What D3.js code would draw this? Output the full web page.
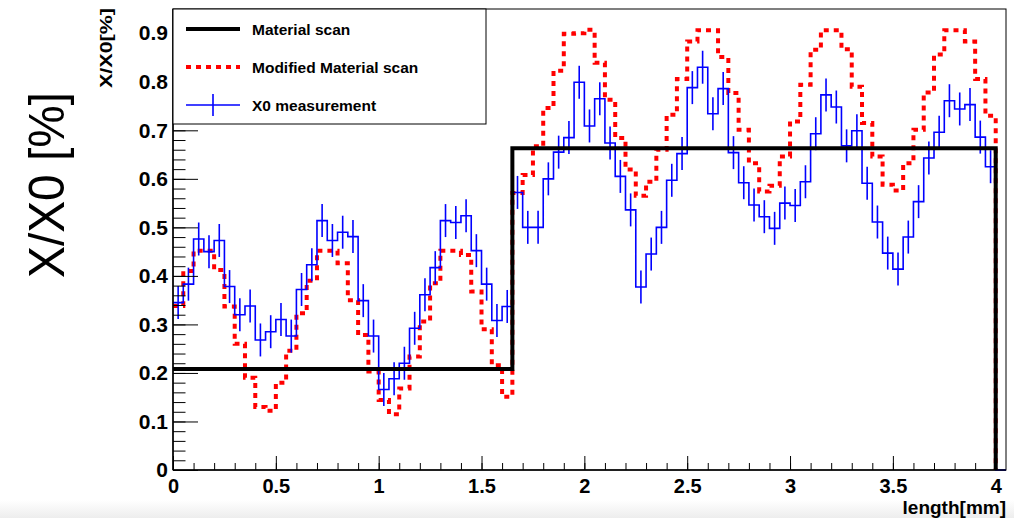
<!DOCTYPE html>
<html>
<head>
<meta charset="utf-8">
<script src="https://cdn.jsdelivr.net/npm/d3@7"></script>
<style>
    html, body { margin: 0; padding: 0; background: #ffffff; }
    svg { display: block; font-family: 'Liberation Sans', Arial, Helvetica, sans-serif; }
</style>
</head>
<body>
<svg id="chart" width="1014" height="518"></svg>
<script>
/**
 * Histogram binning of the scan (mm)
 */
const binWidth = 0.05;
const xMax = 4.05;
const yMax = 0.95;

/**
 * Material scan: a two level step, edges in mm
 */
const materialEdges = [0, 1.65, 4.0];
const materialValues = [0.208, 0.663];

/**
 * Modified material scan, one value per 0.05 mm bin (0 .. 4 mm)
 */
const modifiedValues = [
    0.338, 0.41, 0.452, 0.452, 0.412, 0.337, 0.26, 0.19, 0.13, 0.122,
    0.18, 0.246, 0.323, 0.39, 0.452, 0.452, 0.426, 0.35, 0.278, 0.203,
    0.144, 0.115, 0.168, 0.234, 0.306, 0.385, 0.452, 0.452, 0.443, 0.368,
    0.29, 0.216, 0.151, 0.571, 0.608, 0.667, 0.746, 0.823, 0.899, 0.9,
    0.907, 0.839, 0.763, 0.684, 0.619, 0.565, 0.594, 0.66, 0.732, 0.806,
    0.883, 0.906, 0.906, 0.851, 0.777, 0.701, 0.632, 0.574, 0.586, 0.646,
    0.718, 0.794, 0.866, 0.906, 0.906, 0.867, 0.79, 0.715, 0.646, 0.588,
    0.576, 0.632, 0.701, 0.778, 0.856, 0.906, 0.906, 0.883, 0.806, 0.73
];

/**
 * X0 measurement, one value per 0.05 mm bin, with its error
 */
const measuredValues = [
    0.345, 0.383, 0.476, 0.45, 0.473, 0.378, 0.32, 0.338, 0.268, 0.285,
    0.31, 0.276, 0.372, 0.423, 0.514, 0.473, 0.49, 0.481, 0.349, 0.276,
    0.166, 0.188, 0.22, 0.292, 0.361, 0.417, 0.514, 0.51, 0.524, 0.452,
    0.383, 0.308, 0.337, 0.572, 0.5, 0.5, 0.6, 0.655, 0.685, 0.799,
    0.709, 0.765, 0.674, 0.605, 0.536, 0.377, 0.445, 0.5, 0.597, 0.652,
    0.788, 0.83, 0.734, 0.786, 0.654, 0.592, 0.546, 0.522, 0.498, 0.55,
    0.545, 0.594, 0.693, 0.773, 0.748, 0.668, 0.699, 0.591, 0.511, 0.447,
    0.414, 0.48, 0.553, 0.643, 0.696, 0.761, 0.744, 0.753, 0.686, 0.625
];
const measuredError = 0.034;

/**
 * Tick values of both axes
 */
const xMajorTicks = [0, 0.5, 1, 1.5, 2, 2.5, 3, 3.5, 4];
const xTickLabels = ['0', '0.5', '1', '1.5', '2', '2.5', '3', '3.5', '4'];
const yMajorTicks = [0, 0.1, 0.2, 0.3, 0.4, 0.5, 0.6, 0.7, 0.8, 0.9];
const yTickLabels = ['0', '0.1', '0.2', '0.3', '0.4', '0.5', '0.6', '0.7', '0.8', '0.9'];

const legendEntries = ['Material scan', 'Modified Material scan', 'X0 measurement'];

// frame of the pad, in pixels
const frame = { left: 173, right: 1006, top: 9, bottom: 470 };

function histPoints(values) {
    // step points: one per bin plus the drop to zero at the last edge
    const pts = values.map((v, i) => [i * binWidth, v]);
    pts.push([values.length * binWidth, 0]);
    return pts;
}

function drawChart(svg) {
    svg.selectAll('*').remove();

    const xScale = d3.scaleLinear().domain([0, xMax]).range([frame.left, frame.right]);
    const yScale = d3.scaleLinear().domain([0, yMax]).range([frame.bottom, frame.top]);

    // faint shadow at the foot of the picture
    const grad = svg.append('defs').append('linearGradient')
        .attr('id', 'foot').attr('x1', 0).attr('y1', 0).attr('x2', 0).attr('y2', 1);
    grad.append('stop').attr('offset', 0).attr('stop-color', '#ffffff');
    grad.append('stop').attr('offset', 1).attr('stop-color', '#ededed');
    svg.append('rect').attr('x', 0).attr('y', 500).attr('width', 1014).attr('height', 18)
        .attr('fill', 'url(#foot)');

    // frame box
    svg.append('rect')
        .attr('x', frame.left).attr('y', frame.top)
        .attr('width', frame.right - frame.left).attr('height', frame.bottom - frame.top)
        .attr('fill', 'none').attr('stroke', '#000').attr('stroke-width', 1);

    const line = d3.line()
        .x((d) => xScale(d[0]))
        .y((d) => yScale(d[1]))
        .curve(d3.curveStepAfter);

    // Modified material scan (red dotted)
    svg.append('path')
        .attr('d', line(histPoints(modifiedValues)))
        .attr('fill', 'none')
        .attr('stroke', '#ff0000')
        .attr('stroke-width', 4)
        .attr('stroke-dasharray', '5,5');

    // X0 measurement (blue histogram with error bars)
    const bluePts = histPoints(measuredValues);
    bluePts.push([xMax, 0]);
    svg.append('path')
        .attr('d', line(bluePts))
        .attr('fill', 'none')
        .attr('stroke', '#0000ff')
        .attr('stroke-width', 1.6);
    svg.append('g')
        .selectAll('line')
        .data(measuredValues)
        .join('line')
        .attr('x1', (d, i) => xScale((i + 0.5) * binWidth))
        .attr('x2', (d, i) => xScale((i + 0.5) * binWidth))
        .attr('y1', (d) => yScale(d - measuredError))
        .attr('y2', (d) => yScale(d + measuredError))
        .attr('stroke', '#0000ff')
        .attr('stroke-width', 1.6);

    // Material scan (black)
    const blackPts = materialValues.map((v, i) => [materialEdges[i], v]);
    blackPts.push([materialEdges[materialEdges.length - 1], 0]);
    svg.append('path')
        .attr('d', line(blackPts))
        .attr('fill', 'none')
        .attr('stroke', '#000')
        .attr('stroke-width', 4);

    // X axis: minor ticks then major ticks with labels
    const xMinor = d3.range(0, 4.001, 0.1);
    svg.append('g')
        .attr('transform', `translate(0, ${frame.bottom})`)
        .call(d3.axisBottom(xScale).tickValues(xMinor).tickSize(-7).tickFormat(''))
        .call((g) => g.select('.domain').remove());
    const xAxis = svg.append('g')
        .attr('transform', `translate(0, ${frame.bottom})`)
        .call(d3.axisBottom(xScale)
            .tickValues(xMajorTicks)
            .tickSize(-14)
            .tickPadding(9)
            .tickFormat((d, i) => xTickLabels[i]));
    xAxis.select('.domain').attr('stroke-width', 1.5).attr('d', `M${frame.left},0H${frame.right}`);
    xAxis.selectAll('text')
        .attr('font-size', 20).attr('font-weight', 'bold')
        .attr('font-family', "'Liberation Sans', Arial, sans-serif").attr('fill', '#000');

    // Y axis: minor ticks then major ticks with labels
    const yMinor = d3.range(0, 0.941, 0.02);
    svg.append('g')
        .attr('transform', `translate(${frame.left}, 0)`)
        .call(d3.axisLeft(yScale).tickValues(yMinor).tickSize(-12.5).tickFormat(''))
        .call((g) => g.select('.domain').remove());
    const yAxis = svg.append('g')
        .attr('transform', `translate(${frame.left}, 0)`)
        .call(d3.axisLeft(yScale)
            .tickValues(yMajorTicks)
            .tickSize(-25)
            .tickPadding(5)
            .tickFormat((d, i) => yTickLabels[i]));
    yAxis.select('.domain').attr('stroke-width', 1.5).attr('d', `M0,${frame.top}V${frame.bottom}`);
    yAxis.selectAll('text')
        .attr('font-size', 21).attr('font-weight', 'bold')
        .attr('font-family', "'Liberation Sans', Arial, sans-serif").attr('fill', '#000');

    // Legend box, on top of the pad
    const legend = svg.append('g');
    legend.append('rect')
        .attr('x', frame.left).attr('y', frame.top)
        .attr('width', 313).attr('height', 115)
        .attr('fill', '#fff').attr('stroke', '#000').attr('stroke-width', 1);
    const rowY = [29, 67, 105];
    legend.append('line')
        .attr('x1', 186).attr('x2', 240).attr('y1', rowY[0]).attr('y2', rowY[0])
        .attr('stroke', '#000').attr('stroke-width', 4);
    legend.append('line')
        .attr('x1', 186).attr('x2', 240).attr('y1', rowY[1]).attr('y2', rowY[1])
        .attr('stroke', '#ff0000').attr('stroke-width', 4).attr('stroke-dasharray', '5,5');
    legend.append('line')
        .attr('x1', 186).attr('x2', 240).attr('y1', rowY[2]).attr('y2', rowY[2])
        .attr('stroke', '#0000ff').attr('stroke-width', 1.6);
    legend.append('line')
        .attr('x1', 213).attr('x2', 213).attr('y1', rowY[2] - 11).attr('y2', rowY[2] + 11)
        .attr('stroke', '#0000ff').attr('stroke-width', 1.6);
    legend.selectAll('text')
        .data(legendEntries)
        .join('text')
        .attr('x', 252)
        .attr('y', (d, i) => rowY[i] + 5.5)
        .attr('font-size', 15.5)
        .attr('font-weight', 'bold')
        .text((d) => d);

    // Axis titles
    svg.append('text')
        .attr('x', frame.right)
        .attr('y', 514)
        .attr('text-anchor', 'end')
        .attr('font-size', 19)
        .attr('font-weight', 'bold')
        .text('length[mm]');

    svg.append('text')
        .attr('transform', 'translate(112, 8) rotate(-90)')
        .attr('text-anchor', 'end')
        .attr('font-size', 16)
        .attr('font-weight', 'bold')
        .attr('textLength', 80)
        .attr('lengthAdjust', 'spacingAndGlyphs')
        .text('X/X0[%]');

    svg.append('text')
        .attr('transform', 'translate(64, 185) rotate(-90)')
        .attr('text-anchor', 'middle')
        .attr('font-size', 50)
        .attr('textLength', 186)
        .attr('lengthAdjust', 'spacingAndGlyphs')
        .text('X/X0 [%]');
}

window.addEventListener('DOMContentLoaded', () => {
    drawChart(d3.select('#chart'));
});
</script>
</body>
</html>
